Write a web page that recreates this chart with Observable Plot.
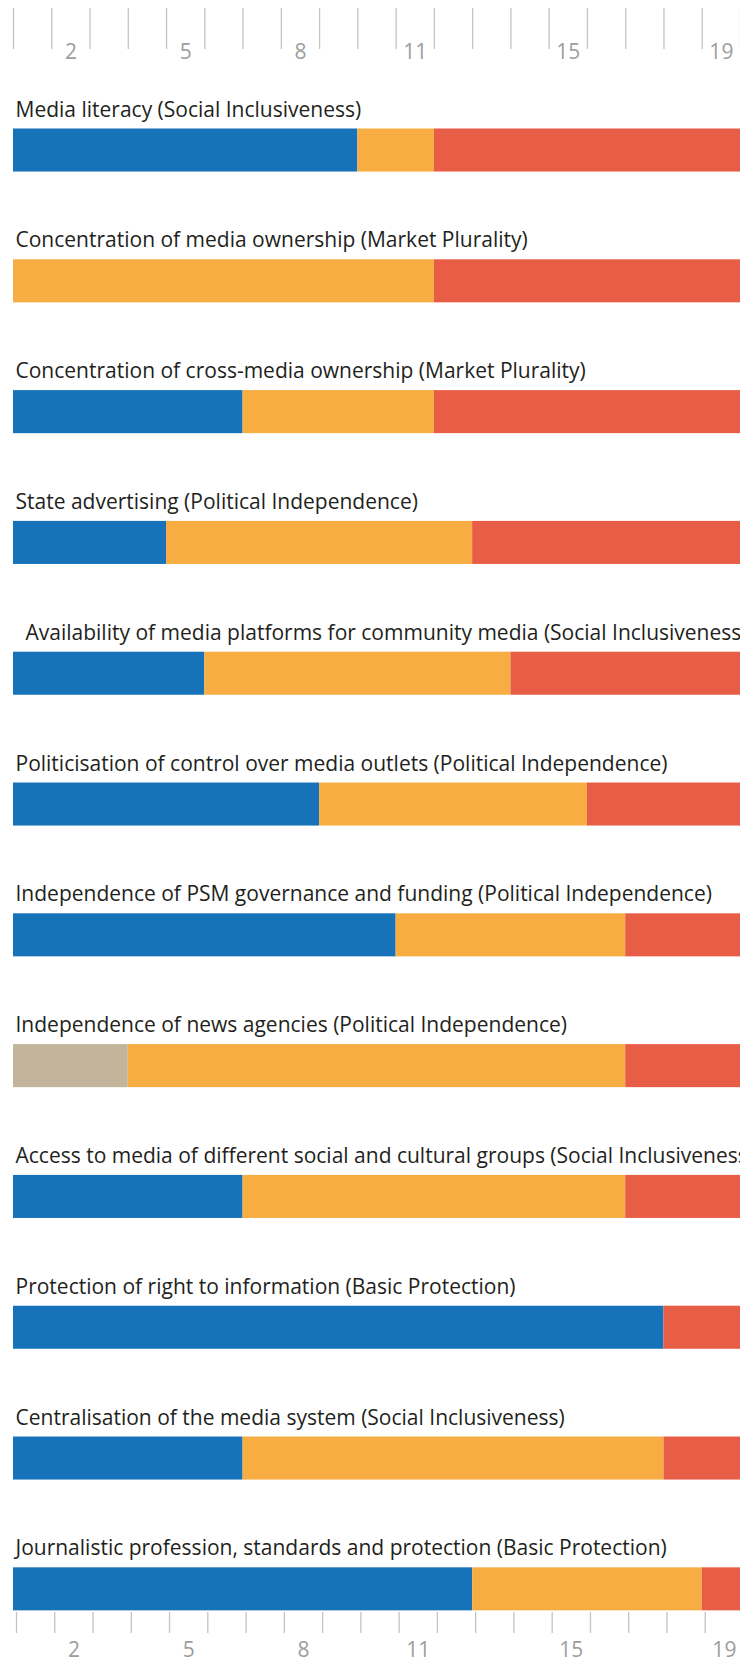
<!DOCTYPE html>
<html>
<head>
<meta charset="utf-8">
<script src="https://cdn.jsdelivr.net/npm/d3@7"></script>
<script src="https://cdn.jsdelivr.net/npm/@observablehq/plot@0.6"></script>
<style>
  html, body { margin: 0; padding: 0; background: #fff; overflow: hidden; }
  #chart svg { display: block; }
</style>
</head>
<body>
<div id="chart"></div>
<script>
// Indicators (top to bottom)
const indicators = [
  "Media literacy (Social Inclusiveness)",
  "Concentration of media ownership (Market Plurality)",
  "Concentration of cross-media ownership (Market Plurality)",
  "State advertising (Political Independence)",
  "Availability of media platforms for community media (Social Inclusiveness)",
  "Politicisation of control over media outlets (Political Independence)",
  "Independence of PSM governance and funding (Political Independence)",
  "Independence of news agencies (Political Independence)",
  "Access to media of different social and cultural groups (Social Inclusiveness)",
  "Protection of right to information (Basic Protection)",
  "Centralisation of the media system (Social Inclusiveness)",
  "Journalistic profession, standards and protection (Basic Protection)"
];
// Number of countries per risk level
const lowRisk    = [9, 0, 6, 4, 5, 8, 10, 0, 6, 17, 6, 12];
const noData     = [0, 0, 0, 0, 0, 0, 0, 3, 0, 0, 0, 0];
const mediumRisk = [2, 11, 5, 8, 8, 7, 6, 13, 10, 0, 11, 6];
const highRisk   = [8, 8, 8, 7, 6, 4, 3, 3, 3, 2, 2, 1];

const levels = ["Low risk", "No data", "Medium risk", "High risk"];
const levelColors = ["#1773b9", "#c3b59c", "#f7ad41", "#e85d46"];

// Axis values
const tickValues = d3.range(0, 20);
const labelValues = [2, 5, 8, 11, 15, 19];

const series = [lowRisk, noData, mediumRisk, highRisk];
const rows = [];
indicators.forEach((ind, i) => {
  levels.forEach((lv, j) => {
    if (series[j][i] > 0) rows.push({indicator: ind, level: lv, value: series[j][i]});
  });
});

const font = "'Open Sans', 'DejaVu Sans', sans-serif";
const indentIdx = 4;

const chart = Plot.plot({
  width: 740,
  height: 1663,
  marginTop: 48,
  marginBottom: 51,
  marginLeft: 13,
  marginRight: 0,
  style: {fontFamily: font, background: "#fff"},
  x: {domain: [0, 19], axis: null},
  y: {domain: indicators, axis: null, paddingInner: 0.671, paddingOuter: 0.314, align: 0.98, round: false},
  color: {domain: levels, range: levelColors},
  marks: [
    Plot.barX(rows, Plot.stackX({x: "value", y: "indicator", fill: "level", order: levels})),
    Plot.text(indicators.filter((d, i) => i !== indentIdx), {
      y: d => d, text: d => d, frameAnchor: "left", textAnchor: "start",
      lineAnchor: "bottom", dx: 2, dy: -34, fontSize: 21, fill: "#231f20"
    }),
    Plot.text(indicators.filter((d, i) => i === indentIdx), {
      y: d => d, text: d => d, frameAnchor: "left", textAnchor: "start",
      lineAnchor: "bottom", dx: 12, dy: -34, fontSize: 21, fill: "#231f20"
    }),
    // top axis
    Plot.axisX({anchor: "top", ticks: tickValues, tickSize: 41, tickFormat: () => "", label: null, stroke: "#c4c4c4", strokeWidth: 1.3}),
    Plot.text(labelValues, {x: d => d - 0.5, text: d => String(d), frameAnchor: "top", lineAnchor: "bottom", dy: 10, fontSize: 21, fill: "#9d9d9d"}),
    // bottom axis
    Plot.axisX({anchor: "bottom", ticks: tickValues, tickSize: 21, tickFormat: () => "", label: null, stroke: "#c4c4c4", strokeWidth: 1.3, dx: 3}),
    Plot.text(labelValues, {x: d => d - 0.5, text: d => String(d), frameAnchor: "bottom", lineAnchor: "bottom", dy: 44, dx: 3, fontSize: 21, fill: "#9d9d9d"})
  ]
});
document.getElementById("chart").appendChild(chart);
</script>
</body>
</html>
